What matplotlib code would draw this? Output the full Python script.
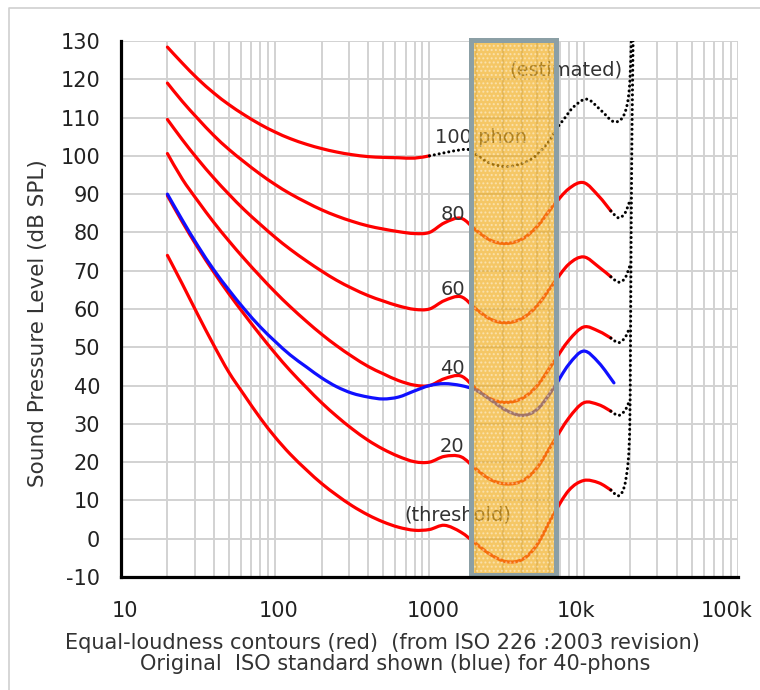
import numpy as np
import matplotlib.pyplot as plt
from matplotlib.patches import Rectangle, PathPatch
from matplotlib.path import Path
from matplotlib.transforms import ScaledTranslation

plt.rcParams['axes.unicode_minus'] = False

# frequencies (Hz) for the red equal-loudness contours
freq = [20, 25, 31.5, 40, 50, 63, 80, 100, 125, 160, 200, 250, 315, 400, 500,
        630, 800, 1000, 1250, 1600, 2000, 2500, 3150, 4000, 5000, 6300, 8000,
        10000, 12500, 15000]

threshold = [74.0, 66.5, 58.5, 50.5, 43.5, 37.5, 31.5, 26.5, 22.1, 17.9, 14.4, 11.4,
             8.6, 6.2, 4.4, 3.0, 2.2, 2.4, 3.5, 1.7, -1.3, -4.2, -6.0, -5.4, -1.5,
             6.0, 12.6, 15.2, 14.6, 12.7]
phon20 = [89.6, 82.7, 76.0, 69.6, 64.0, 58.6, 53.2, 48.4, 43.9, 39.4, 35.5, 32.0,
          28.7, 25.7, 23.4, 21.5, 20.1, 20.0, 21.5, 21.4, 18.2, 15.4, 14.3, 15.1,
          18.6, 25.0, 31.5, 35.5, 35.0, 33.3]
phon40 = [100.6, 93.9, 88.2, 82.6, 77.8, 73.1, 68.5, 64.4, 60.6, 56.7, 53.4, 50.4,
          47.6, 45.0, 43.1, 41.3, 40.1, 40.0, 41.8, 42.5, 39.2, 36.5, 35.6, 36.7,
          40.0, 45.8, 51.8, 55.3, 54.2, 52.4]
phon60 = [109.5, 104.2, 99.1, 94.2, 90.0, 85.9, 82.1, 78.7, 75.6, 72.5, 69.9, 67.5,
          65.4, 63.5, 62.1, 60.8, 59.9, 60.0, 62.2, 63.2, 60.0, 57.3, 56.4, 57.6,
          60.9, 66.4, 71.7, 73.6, 71.0, 68.4]
phon80 = [119.0, 114.2, 109.7, 105.3, 101.7, 98.4, 95.2, 92.5, 90.1, 87.8, 85.9, 84.3,
          82.9, 81.7, 80.9, 80.2, 79.7, 80.0, 82.5, 83.7, 80.6, 77.9, 77.1, 78.3,
          81.6, 86.8, 91.4, 93.0, 89.5, 85.6]
# 100 phon is only drawn solid up to 1 kHz
phon100 = [128.4, 124.2, 120.1, 116.4, 113.4, 110.7, 108.2, 106.2, 104.5, 103.0,
           101.9, 101.0, 100.3, 99.8, 99.6, 99.5, 99.4, 100.0]

# original ISO 40 phon curve (blue)
blue_freq = [20, 25, 31.5, 40, 50, 63, 80, 100, 125, 160, 200, 250, 315, 400, 500,
             630, 800, 1000, 1250, 1600, 2000, 2500, 3150, 4000, 5000, 6300, 8000,
             10000, 12500, 15700]
blue40 = [90.0, 83.2, 76.5, 70.2, 65.0, 60.0, 55.3, 51.5, 48.0, 44.8, 42.0, 39.7,
          38.0, 37.0, 36.5, 37.0, 38.6, 40.0, 40.5, 40.0, 38.8, 36.2, 33.5, 32.2,
          33.8, 39.0, 45.5, 49.0, 46.0, 40.7]

# dotted "estimated" parts
est_freq = [15000, 16800, 18500, 19800]
est20 = [33.3, 32.2, 33.5, 36.0]
est40 = [52.4, 51.2, 52.5, 55.0]
est60 = [68.4, 67.0, 68.0, 71.0]
est80 = [85.6, 83.8, 85.0, 88.0]
thr_est_freq = [15000, 16800, 18300, 19400, 19900, 20100, 20300, 20600, 21000]
thr_est = [12.7, 11.2, 13.5, 20.0, 30.0, 50.0, 80.0, 110.0, 136.0]
est100_freq = [1000, 1730, 2060, 2460, 3150, 4050, 4950, 6060, 6690, 7390, 8600,
               10500, 12850, 15700, 18250, 19800, 20500]
est100 = [100.0, 101.7, 100.0, 98.1, 97.2, 98.1, 100.2, 104.2, 107.2, 109.4, 112.8,
          114.8, 112.0, 108.9, 110.7, 118.0, 135.0]

yticks = list(range(-10, 131, 10))
xticks = [10, 100, 1000, 10000, 100000]
xticklabels = ['10', '100', '1000', '10k', '100k']


def smooth_curve(ax, xs, ys, **kw):
    # smoothed line through the points (like a spreadsheet "smoothed line"),
    # built in log-frequency space
    p = np.column_stack([np.log10(xs), ys])
    n = len(p)
    verts = [p[0]]
    codes = [Path.MOVETO]
    for i in range(n - 1):
        a = p[max(i - 1, 0)]
        d = p[min(i + 2, n - 1)]
        c1 = p[i] + (p[i + 1] - a) / 6
        c2 = p[i + 1] - (d - p[i]) / 6
        verts += [c1, c2, p[i + 1]]
        codes += [Path.CURVE4] * 3
    verts = np.array(verts)
    verts[:, 0] = 10 ** verts[:, 0]
    ax.add_patch(PathPatch(Path(verts, codes), fill=False, **kw))


fig = plt.figure(figsize=(7.6, 6.9), dpi=100)
ax = fig.add_axes([0.1592, 0.1638, 0.8118, 0.7768])

red = '#ff0000'
solid = dict(lw=2.3, capstyle='round', joinstyle='round', zorder=3)
dots = dict(edgecolor='black', lw=2.2, linestyle=(0, (0.01, 1.6)),
            capstyle='round', zorder=3)

for vals in [threshold, phon20, phon40, phon60, phon80]:
    smooth_curve(ax, freq, vals, edgecolor=red, **solid)
smooth_curve(ax, freq[:len(phon100)], phon100, edgecolor=red, **solid)
smooth_curve(ax, blue_freq, blue40, edgecolor='#1010ff', lw=2.3,
             capstyle='round', zorder=3.2)

for vals in [est20, est40, est60, est80]:
    smooth_curve(ax, est_freq, vals, **dots)
smooth_curve(ax, thr_est_freq, thr_est, **dots)
smooth_curve(ax, est100_freq, est100, **dots)

# labels on the curves
txt = dict(fontsize=14, color='#333333', zorder=4)
ax.text(1078, 104.7, '100 phon', ha='left', va='center', **txt)
ax.text(1413, 84.6, '80', ha='center', va='center', **txt)
ax.text(1413, 65.0, '60', ha='center', va='center', **txt)
ax.text(1413, 44.5, '40', ha='center', va='center', **txt)
ax.text(1400, 24.1, '20', ha='center', va='center', **txt)
ax.text(1524, 6.2, '(threshold)', ha='center', va='center', **txt)
ax.text(7690, 122.4, '(estimated)', ha='center', va='center', **txt)

# highlighted band
ax.add_patch(Rectangle((1860, -9.4), 6580 - 1860, 139.6, facecolor='#f0a912',
                       alpha=0.65, lw=0, zorder=5, clip_on=False))
ax.add_patch(Rectangle((1860, -9.4), 6580 - 1860, 139.6, facecolor='none',
                       edgecolor='white', hatch='....', lw=0, alpha=0.4,
                       zorder=5.5, clip_on=False))
ax.add_patch(Rectangle((1860, -9.4), 6580 - 1860, 139.6, fill=False,
                       edgecolor='#8b9fa5', lw=3.6, zorder=6, clip_on=False))

ax.set_xscale('log')
ax.set_xlim(10, 100000)
ax.set_ylim(-10, 130)
ax.set_yticks(yticks)
ax.set_xticks(xticks)
ax.set_xticklabels(xticklabels)
ax.tick_params(which='both', length=0, labelsize=15, labelcolor='#222222')
ax.tick_params(axis='y', pad=15)
ax.tick_params(axis='x', pad=17)

# x labels are not quite centred on their gridlines
for lab, dx in zip(ax.get_xticklabels(), [4, 3, 4, -8, -11]):
    lab.set_transform(lab.get_transform() + ScaledTranslation(dx / 100, 0, fig.dpi_scale_trans))

ax.set_axisbelow(True)
ax.grid(True, which='both', color='#d2d2d2', lw=1.4)
for s in ['top', 'right']:
    ax.spines[s].set_visible(False)
for s in ['left', 'bottom']:
    ax.spines[s].set_linewidth(2.3)
    ax.spines[s].set_color('black')
    ax.spines[s].set_zorder(7)

fig.text(38 / 760, 1 - 323 / 690, 'Sound Pressure Level (dB SPL)', rotation=90,
         ha='center', va='center', fontsize=15.5, color='#333333')
fig.text(382 / 760, 1 - 643 / 690,
         'Equal-loudness contours (red)  (from ISO 226 :2003 revision)',
         ha='center', va='center', fontsize=15, color='#333333')
fig.text(395 / 760, 1 - 664 / 690,
         'Original  ISO standard shown (blue) for 40-phons',
         ha='center', va='center', fontsize=15, color='#333333')

# light frame around the picture
fig.add_artist(plt.Line2D([9 / 760, 9 / 760, 1.0], [0.0, 1 - 8 / 690, 1 - 8 / 690],
                          transform=fig.transFigure, color='#d0d0d0', lw=1.2))

fig.savefig('out.png', dpi=100)
